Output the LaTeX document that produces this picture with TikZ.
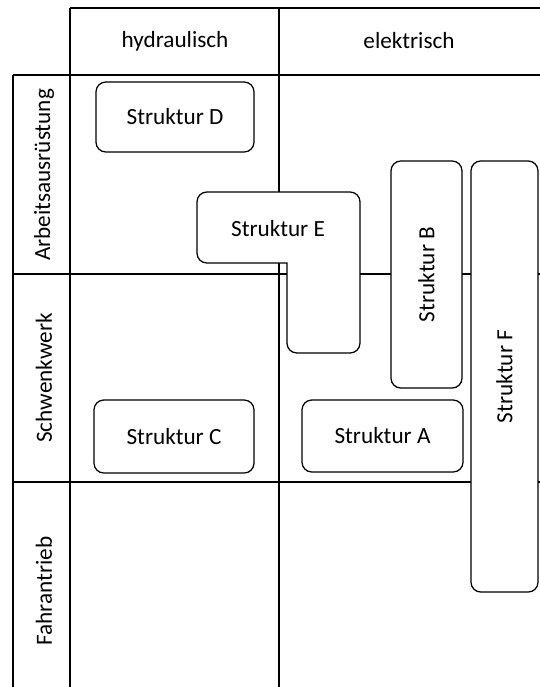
\documentclass[tikz,border=0pt]{standalone}
\usepackage{fontspec}
\setmainfont{Carlito}
\begin{document}
\begin{tikzpicture}[
			x=0.025cm, y=-0.025cm,
			font=\fontsize{16.5}{19}\selectfont,
			gitter/.style = {draw, line width=1.4pt},
			struktur/.style = {draw, fill=white, line width=0.9pt, rounded corners=7pt, inner sep=0pt},
			kopf/.style = {inner sep=0pt},
			zeile/.style = {inner sep=0pt, rotate=90},
			]
			\useasboundingbox (0,0) rectangle (540,687);
			\draw[gitter] (70,8) -- (540,8);
			\draw[gitter, line width=2pt] (13,75) -- (540,75);
			\draw[gitter] (13,274) -- (540,274);
			\draw[gitter] (13,482) -- (540,482);
			\draw[gitter] (13,75) -- (13,687);
			\draw[gitter] (70,8) -- (70,687);
			\draw[gitter] (279,8) -- (279,687);
			\node[kopf] (hyd) at (175,41) {hydraulisch};
			\node[kopf] (ele) at (409,41) {elektrisch};
			\node[zeile] (arb) at (44,175) {Arbeitsausrüstung};
			\node[zeile] (schw) at (44,378) {Schwenkwerk};
			\node[zeile] (fahr) at (44,591) {Fahrantrieb};
			\node[struktur, minimum width=3.95cm, minimum height=1.75cm] (D) at (175,117) {Struktur D};
			\node[struktur, minimum width=4cm, minimum height=1.825cm] (C) at (174,436.5) {Struktur C};
			\node[struktur, minimum width=4.025cm, minimum height=1.8cm] (A) at (382.5,436) {Struktur A};
			\node[struktur, rotate=90, minimum width=5.675cm, minimum height=1.775cm] (B) at (426.5,274.5) {Struktur B};
			\node[struktur, rotate=90, minimum width=10.775cm, minimum height=1.675cm] (F) at (504.5,376.5) {Struktur F};
			\draw[struktur] (197,192) -- (360,192) -- (360,353) -- (287,353) [sharp corners]-- (287,263) [rounded corners=7pt]-- (197,263) -- cycle;
			\node[kopf] (E) at (278,229) {Struktur E};
		\end{tikzpicture}
\end{document}
